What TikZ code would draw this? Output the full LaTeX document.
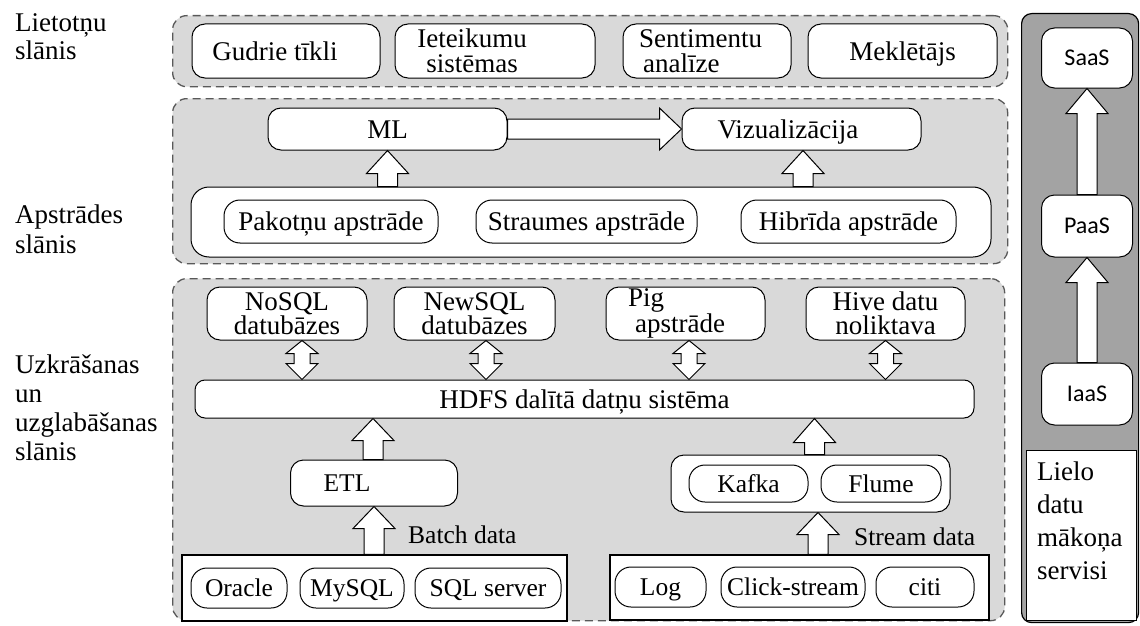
\documentclass[tikz,border=0pt]{standalone}
\usepackage{fontspec}
\setmainfont{Liberation Serif}
\newfontfamily\cloudfont{Carlito}
\usetikzlibrary{calc}

\definecolor{layerfill}{gray}{0.85}
\definecolor{panelfill}{gray}{0.64}
\definecolor{dashcol}{gray}{0.35}

% hollow block arrow pointing up: #1 gives the foot (y), #2 the tip (x,y)
\newcommand\blockup[5]{%
  \draw[blockarrow] let \p1=#1, \p2=#2 in
    ({\x2-#3},\y1) -- ({\x2-#3},{\y2-#5}) -- ({\x2-#4},{\y2-#5}) -- (\x2,\y2)
    -- ({\x2+#4},{\y2-#5}) -- ({\x2+#3},{\y2-#5}) -- ({\x2+#3},\y1) -- cycle;}

% hollow block arrow pointing right: #1 tail (x), #2 tip (x,y)
\newcommand\blockright[5]{%
  \draw[blockarrow] let \p1=#1, \p2=#2 in
    (\x1,{\y2-#3}) -- ({\x2-#5},{\y2-#3}) -- ({\x2-#5},{\y2-#4}) -- (\x2,\y2)
    -- ({\x2-#5},{\y2+#4}) -- ({\x2-#5},{\y2+#3}) -- (\x1,{\y2+#3}) -- cycle;}

% hollow two-headed block arrow: #1 upper tip (x,y), #2 lower tip (y)
\newcommand\blockboth[6]{%
  \draw[blockarrow] let \p1=#1, \p2=#2 in
    (\x1,\y1) -- ({\x1+#4},{\y1-#5}) -- ({\x1+#3},{\y1-#5}) -- ({\x1+#3},{\y2+#6})
    -- ({\x1+#4},{\y2+#6}) -- (\x1,\y2) -- ({\x1-#4},{\y2+#6}) -- ({\x1-#3},{\y2+#6})
    -- ({\x1-#3},{\y1-#5}) -- ({\x1-#4},{\y1-#5}) -- cycle;}

\begin{document}
\begin{tikzpicture}[x=1pt, y=-1pt,
  txt/.style={inner sep=0pt, font=\fontsize{27}{24.5}\selectfont},
  one/.style={text height=18pt, text depth=0pt},
  small/.style={font=\fontsize{25.5}{24}\selectfont, text height=17pt, text depth=0pt},
  sidelabel/.style={inner sep=0pt, align=left, anchor=north west},
  layer/.style={draw=dashcol, line width=1.3pt, dash pattern=on 8pt off 5pt,
    fill=layerfill, rounded corners=14pt, inner sep=0pt},
  rbox/.style={draw, fill=white, line width=1pt, rounded corners=13pt, inner sep=0pt,
    font=\fontsize{27}{24.5}\selectfont},
  pill/.style={rbox, rounded corners=16pt},
  srcbox/.style={draw, fill=white, line width=1.2pt, inner sep=0pt},
  cloudbox/.style={rbox, font=\cloudfont\fontsize{24}{24}\selectfont,
    text height=15.5pt, text depth=0pt, minimum width=91pt},
  blockarrow/.style={draw, fill=white, line width=1pt, line join=miter},
]
\useasboundingbox (0,0) rectangle (1140,626);
\fill[white] (0,0) rectangle (1140,626);

% layer names
\node[sidelabel, font=\fontsize{27}{28.5}\selectfont] (labapp) at (15,13) {Lietotņu\\slānis};
\node[sidelabel, font=\fontsize{27}{30}\selectfont] (labproc) at (15,205) {Apstrādes\\slānis};
\node[sidelabel, font=\fontsize{27}{29}\selectfont] (labstor) at (15,355) {Uzkrāšanas\\un\\uzglabāšanas\\slānis};

% dashed layer frames
\node[layer, anchor=north west, minimum width=835pt, minimum height=71pt] (applayer) at (172,15) {};
\node[layer, anchor=north west, minimum width=835pt, minimum height=165pt] (proclayer) at (172,98) {};
\node[layer, anchor=north west, minimum width=832pt, minimum height=342pt] (storlayer) at (172,278) {};

% cloud service panel
\node[draw, line width=1.2pt, fill=panelfill, rounded corners=10pt, inner sep=0pt,
  anchor=north west, minimum width=117pt, minimum height=609pt] (cloudpanel) at (1021,13) {};
\node[srcbox, anchor=north west, minimum width=110pt, minimum height=170pt] (cloudnote) at (1026,450) {};
\node[sidelabel, font=\fontsize{27}{33}\selectfont] (cloudtext) at (1037,462) {Lielo\\datu\\mākoņa\\servisi};
\node[cloudbox, minimum height=60pt] (saas) at (1087,58) {SaaS};
\node[cloudbox, minimum height=62pt] (paas) at (1087,226) {PaaS};
\node[cloudbox, minimum height=62pt] (iaas) at (1087,394) {IaaS};

% application layer
\node[rbox, minimum width=188pt, minimum height=54pt] (gud) at (286,51) {};
\node[txt, one] (gudtext) at (275,51) {Gudrie tīkli};
\node[rbox, minimum width=200pt, minimum height=54pt] (iet) at (495,51) {};
\node[txt, align=center] (iettext) at (472,51) {Ieteikumu\\sistēmas};
\node[rbox, minimum width=168pt, minimum height=54pt] (sen) at (707,51) {};
\node[txt, align=left, anchor=west] (sentext) at (639,51) {Sentimentu\\\hspace*{4pt}analīze};
\node[rbox, one, minimum width=189pt, minimum height=54pt] (mek) at (902.5,51) {Meklētājs};

% processing layer
\node[rbox, one, minimum width=239pt, minimum height=42pt] (ml) at (387.5,129) {ML};
\node[rbox, minimum width=239pt, minimum height=42pt] (viz) at (801.5,129) {};
\node[txt, one] (viztext) at (788,129) {Vizualizācija};
\node[rbox, rounded corners=18pt, minimum width=800pt, minimum height=70pt] (procbox) at (591,222) {};
\node[pill, one, minimum width=214pt, minimum height=43pt] (batchproc) at (331,221.5) {Pakotņu apstrāde};
\node[pill, one, minimum width=221pt, minimum height=43pt] (streamproc) at (586.5,221.5) {Straumes apstrāde};
\node[pill, one, minimum width=215pt, minimum height=43pt] (hybridproc) at (848.5,221.5) {Hibrīda apstrāde};

% storage layer
\node[rbox, align=center, minimum width=160pt, minimum height=53pt] (nosql) at (287,313.5) {NoSQL\\datubāzes};
\node[rbox, align=center, minimum width=161pt, minimum height=53pt] (newsql) at (474.5,313.5) {NewSQL\\datubāzes};
\node[rbox, minimum width=159pt, minimum height=53pt] (pig) at (685.5,313.5) {};
\node[txt, align=left, anchor=west] (pigtext) at (628,313.5) {Pig\\\hspace*{7pt}apstrāde};
\node[rbox, align=center, minimum width=159pt, minimum height=53pt] (hive) at (885.5,313.5) {Hive datu\\noliktava};
\node[rbox, one, rounded corners=10pt, minimum width=779pt, minimum height=38pt] (hdfs) at (584.5,399) {HDFS dalītā datņu sistēma};

\node[rbox, minimum width=167pt, minimum height=46pt] (etl) at (374,483) {};
\node[txt, small] (etltext) at (347,483) {ETL};
\node[srcbox, minimum width=385pt, minimum height=66pt] (batch) at (374.5,588) {};
\node[pill, small, minimum width=96pt, minimum height=40pt] (oracle) at (239,588) {Oracle};
\node[pill, small, minimum width=104pt, minimum height=40pt] (mysql) at (352,588) {MySQL};
\node[pill, small, minimum width=146pt, minimum height=40pt] (sqlsrv) at (488,588) {SQL server};
\node[txt, font=\fontsize{25.5}{24}\selectfont, anchor=base west] (batchlabel) at (408,543) {Batch data};

\node[rbox, minimum width=279pt, minimum height=57pt] (kf) at (810.5,483.5) {};
\node[pill, small, minimum width=119pt, minimum height=37pt] (kafka) at (748.5,483.5) {Kafka};
\node[pill, small, minimum width=120pt, minimum height=37pt] (flume) at (881,483.5) {Flume};
\node[srcbox, minimum width=379pt, minimum height=65pt] (stream) at (799.5,587.5) {};
\node[pill, small, minimum width=91pt, minimum height=40pt] (log) at (660.5,587) {Log};
\node[pill, small, minimum width=144pt, minimum height=40pt] (click) at (793,587) {Click-stream};
\node[pill, small, minimum width=98pt, minimum height=40pt] (citi) at (925,587) {citi};
\node[txt, font=\fontsize{25.5}{24}\selectfont, anchor=base west] (streamlabel) at (854,545) {Stream data};

% block arrows
\blockup{(procbox.north)}{(ml.south)}{10pt}{21pt}{23pt}
\blockup{(procbox.north)}{($(viz.south)+(1.5,0)$)}{10pt}{21pt}{23pt}
\blockright{(ml.east)}{(viz.west)}{10pt}{21pt}{22pt}

\blockboth{($(nosql.south)+(15,0)$)}{(hdfs.north)}{8pt}{16pt}{13pt}{16pt}
\blockboth{($(newsql.south)+(11.5,0)$)}{(hdfs.north)}{8pt}{16pt}{13pt}{16pt}
\blockboth{($(pig.south)+(3.5,0)$)}{(hdfs.north)}{8pt}{16pt}{13pt}{16pt}
\blockboth{(hive.south)}{(hdfs.north)}{8pt}{16pt}{13pt}{16pt}

\blockup{(etl.north)}{($(etl.north |- hdfs.south)+(-1,0)$)}{10pt}{21pt}{22pt}
\blockup{(batch.north)}{(etl.south)}{10pt}{21pt}{22pt}
\blockup{(kf.north)}{($(kf.north |- hdfs.south)+(4,0)$)}{10pt}{21pt}{24pt}
\blockup{(stream.north)}{($(kf.south)+(7.5,0)$)}{10pt}{21pt}{22pt}

\blockup{(paas.north)}{(saas.south)}{10pt}{21pt}{25pt}
\blockup{(iaas.north)}{(paas.south)}{10pt}{21pt}{25pt}
\end{tikzpicture}
\end{document}
